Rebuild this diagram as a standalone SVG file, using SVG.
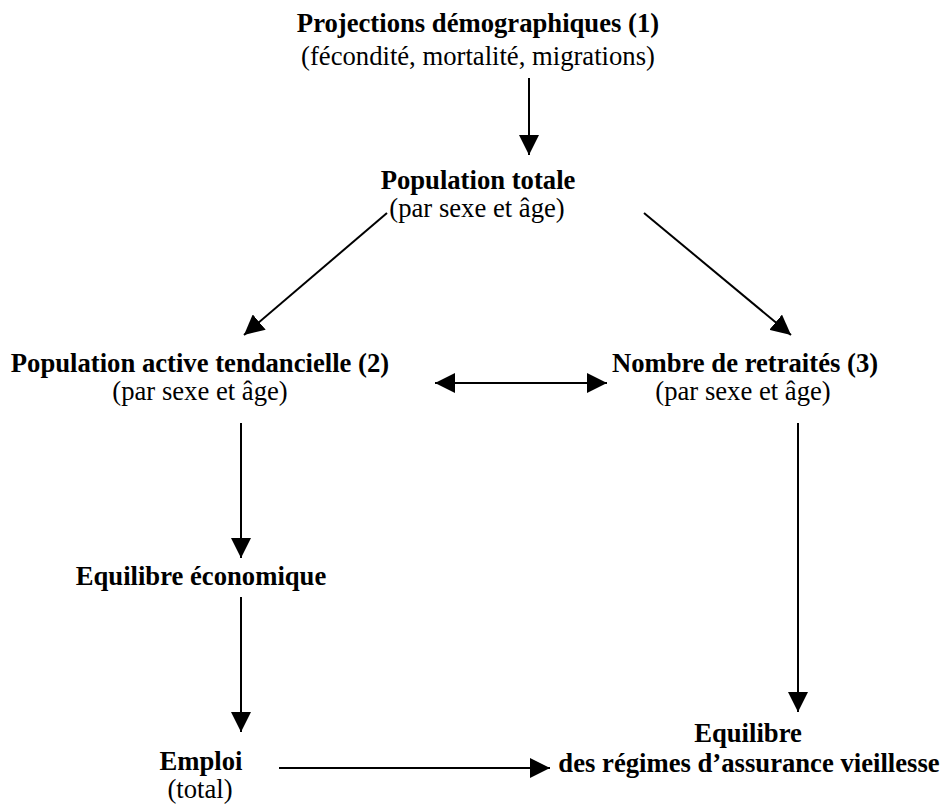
<svg xmlns="http://www.w3.org/2000/svg" width="942" height="805" viewBox="0 0 942 805">
<style>
text{font-family:"Liberation Serif","Times New Roman",serif;font-size:26.67px;fill:#000;text-anchor:middle}
.b{font-weight:bold}
.c line{stroke:#000;stroke-width:2;fill:none;marker-end:url(#ah)}
</style>
<defs>
<marker id="ah" markerUnits="userSpaceOnUse" markerWidth="20" markerHeight="20" viewBox="0 0 20 20" refX="20" refY="10" orient="auto-start-reverse">
<path d="M0,0 L20,10 L0,20 z" fill="#000"/>
</marker>
</defs>
<rect width="942" height="805" fill="#fff"/>
<g id="projections">
<text class="b" x="478" y="32">Projections démographiques (1)</text>
<text x="478" y="65">(fécondité, mortalité, migrations)</text>
</g>
<g id="population-totale">
<text class="b" x="478" y="189">Population totale</text>
<text x="477" y="217">(par sexe et âge)</text>
</g>
<g id="population-active">
<text class="b" x="200" y="372">Population active tendancielle (2)</text>
<text x="200" y="400">(par sexe et âge)</text>
</g>
<g id="retraites">
<text class="b" x="745" y="372">Nombre de retraités (3)</text>
<text x="743" y="400">(par sexe et âge)</text>
</g>
<g id="equilibre-economique">
<text class="b" x="201" y="585">Equilibre économique</text>
</g>
<g id="emploi">
<text class="b" x="201" y="770">Emploi</text>
<text x="200" y="798">(total)</text>
</g>
<g id="equilibre-regimes">
<text class="b" x="748" y="742">Equilibre</text>
<text class="b" x="749" y="772">des régimes d’assurance vieillesse</text>
</g>
<g class="c" id="connectors">
<line x1="529" y1="78" x2="529" y2="155"/>
<line x1="387" y1="213" x2="244" y2="335"/>
<line x1="644" y1="213" x2="791" y2="335"/>
<line x1="435" y1="383" x2="607" y2="383" style="marker-start:url(#ah)"/>
<line x1="241" y1="423" x2="241" y2="558"/>
<line x1="241" y1="597" x2="241" y2="732"/>
<line x1="798" y1="423" x2="798" y2="712"/>
<line x1="279" y1="768" x2="550" y2="768"/>
</g>
</svg>
